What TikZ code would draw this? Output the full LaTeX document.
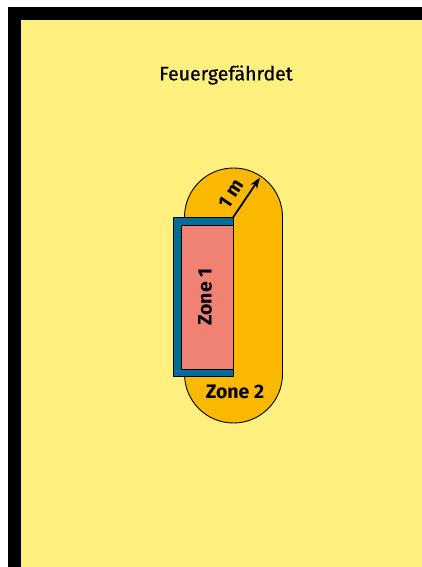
\documentclass[tikz,border=0pt]{standalone}
\usepackage{fontspec}
\setmainfont{Fira Sans}
\usetikzlibrary{arrows.meta,calc}
\definecolor{bgyellow}{RGB}{255,240,128}
\definecolor{zonetwo}{RGB}{250,185,0}
\definecolor{zoneblue}{RGB}{0,110,150}
\definecolor{zoneone}{RGB}{240,130,115}
\tikzset{
  outline/.style={draw=black,line width=0.9pt},
  lbl/.style={font=\fontsize{19.5}{22}\selectfont\bfseries,inner sep=0pt},
}
\begin{document}
\begin{tikzpicture}[x=1pt,y=1pt]
\useasboundingbox (0,0) rectangle (422,567);
\fill[white] (0,0) rectangle (422,567);
\fill[black] (8,0) rectangle (422,560);
\fill[bgyellow] (21,0) rectangle (422,547);
\node[font=\fontsize{19.5}{22}\selectfont\addfontfeature{FakeBold=0.6},inner sep=0pt] (title) at (226,492) {Feuergefährdet};
% zone 2 stadium
\path[fill=zonetwo,outline] (184.5,193) -- (184.5,350) arc[start angle=180,end angle=0,radius=49] -- (282.5,193) arc[start angle=0,end angle=-180,radius=49] -- cycle;
% zone 1
\path[fill=zoneblue,outline] (173,191) rectangle (233,349.5);
\path[fill=zoneone,outline] (181,198) rectangle (233,342);
\coordinate (c) at (233,349.5);
\coordinate (tip) at ($(c)+(56:48)$);
\draw[line width=1.8pt,-{Stealth[length=11pt,width=8pt]}] (c) -- (tip);
\node[lbl,rotate=56] (m) at (231,373) {1 m};
\node[lbl,rotate=90] (z1) at (205,270) {Zone 1};
\node[lbl] (z2) at (235,175) {Zone 2};
\end{tikzpicture}
\end{document}
